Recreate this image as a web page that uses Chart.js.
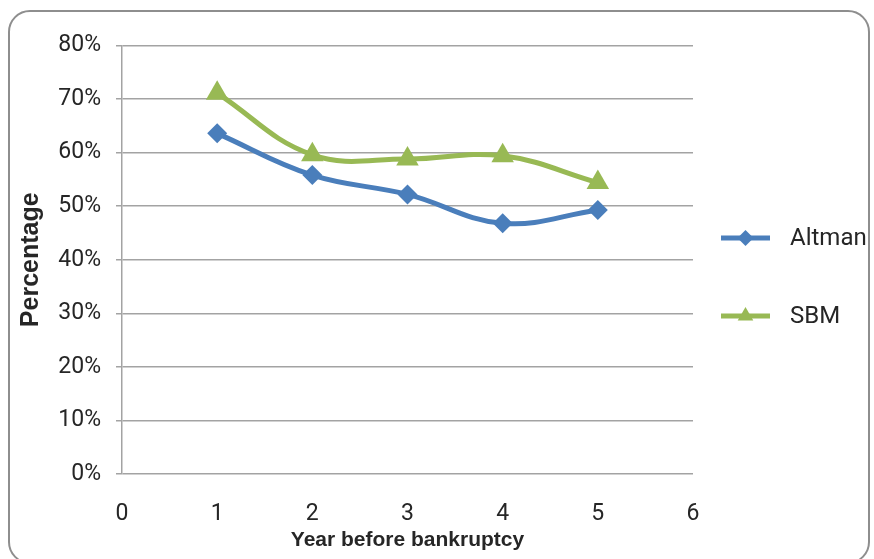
<!DOCTYPE html>
<html>
<head>
<meta charset="utf-8">
<script src="https://cdn.jsdelivr.net/npm/chart.js@4"></script>
<style>
  html, body { margin: 0; padding: 0; background: #fff; }
  #wrap { position: relative; width: 874px; height: 559px; overflow: hidden; }
  #frame {
    position: absolute; left: 8px; top: 10px; width: 858px; height: 550px;
    border: 2px solid #8e8e8e; border-radius: 22px; pointer-events: none;
  }
  canvas { position: absolute; left: 0; top: 0; }
</style>
</head>
<body>
<div id="wrap">
  <canvas id="chart" width="874" height="559"></canvas>
  <div id="frame"></div>
</div>
<script>
const years = [1, 2, 3, 4, 5];
const altman = [63.6, 55.8, 52.2, 46.8, 49.3];
const sbm = [71.1, 59.6, 58.8, 59.4, 54.4];
const seriesNames = ['Altman', 'SBM'];

const TICK_FONT = "Roboto, 'Liberation Sans', Arial, sans-serif";
const TITLE_FONT = "'Liberation Sans', Arial, sans-serif";
const TEXT = '#262626';
const GRID = '#a3a3a3';

function toPoints(values) {
    return years.map((x, i) => ({ x: x, y: values[i] }));
}

// legend drawn as line + marker, stacked at the right like an office chart
const sideLegend = {
    id: 'sideLegend',
    afterDraw(chart) {
        const ctx = chart.ctx;
        const rows = [238, 316];
        chart.data.datasets.forEach((ds, i) => {
            const y = rows[i];
            ctx.save();
            ctx.strokeStyle = ds.borderColor;
            ctx.fillStyle = ds.backgroundColor;
            ctx.lineWidth = 5;
            ctx.beginPath();
            ctx.moveTo(721, y);
            ctx.lineTo(770, y);
            ctx.stroke();
            Chart.helpers.drawPoint(ctx, {
                pointStyle: ds.pointStyle,
                radius: ds.pointStyle === 'triangle' ? 9 : 8,
                rotation: 0,
                borderWidth: 0
            }, 745.5, y);
            ctx.fillStyle = TEXT;
            ctx.font = '24px ' + TICK_FONT;
            ctx.textBaseline = 'middle';
            ctx.textAlign = 'left';
            ctx.fillText(ds.label, 790, y + 1);
            ctx.restore();
        });
    }
};

new Chart(document.getElementById('chart'), {
    type: 'line',
    data: {
        datasets: [{
            label: seriesNames[0],
            data: toPoints(altman),
            borderColor: '#4a7ebb',
            backgroundColor: '#4a7ebb',
            borderWidth: 5,
            tension: 0.4,
            pointStyle: 'rectRot',
            pointRadius: 10,
            pointBorderWidth: 0
        }, {
            label: seriesNames[1],
            data: toPoints(sbm),
            borderColor: '#98b954',
            backgroundColor: '#98b954',
            borderWidth: 5,
            tension: 0.4,
            pointStyle: 'triangle',
            pointRadius: 13,
            pointBorderWidth: 0
        }]
    },
    options: {
        responsive: false,
        animation: false,
        layout: { padding: { top: 45.5, right: 181, bottom: 0, left: 0 } },
        plugins: {
            legend: { display: false },
            tooltip: { enabled: false }
        },
        scales: {
            x: {
                type: 'linear',
                min: 0,
                max: 6,
                ticks: {
                    stepSize: 1,
                    color: TEXT,
                    font: { family: TICK_FONT, size: 23 },
                    padding: 26
                },
                grid: { display: false, drawTicks: false },
                border: { display: false },
                title: {
                    display: true,
                    text: 'Year before bankruptcy',
                    color: TEXT,
                    font: { family: TITLE_FONT, size: 21, weight: 'bold' },
                    padding: { top: 0, bottom: 6 }
                },
                afterFit(scale) { scale.height = 85; }
            },
            y: {
                min: 0,
                max: 80,
                ticks: {
                    stepSize: 10,
                    color: TEXT,
                    font: { family: TICK_FONT, size: 23 },
                    padding: 15,
                    callback: v => v + '%'
                },
                grid: { color: GRID, lineWidth: 1.5, tickLength: 6, drawTicks: true },
                border: { display: true, color: GRID, width: 1.5 },
                title: {
                    display: true,
                    text: 'Percentage',
                    color: TEXT,
                    font: { family: TITLE_FONT, size: 25, weight: 'bold' },
                    padding: { top: 16, bottom: 0 }
                },
                afterFit(scale) { scale.width = 122; }
            }
        }
    },
    plugins: [sideLegend]
});
</script>
</body>
</html>
